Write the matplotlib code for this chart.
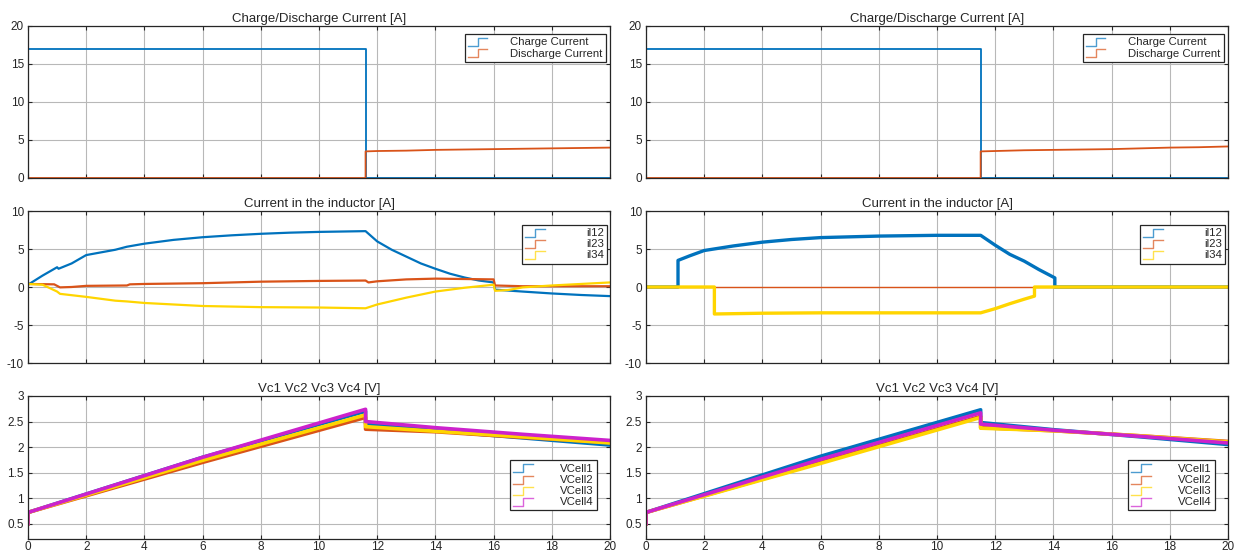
import matplotlib.pyplot as plt
from matplotlib.legend_handler import HandlerBase
from matplotlib.lines import Line2D

plt.rcParams['font.family'] = ['Liberation Sans', 'DejaVu Sans']

# scope colours
BLUE = '#0072BD'
ORANGE = '#D95319'
YELLOW = '#FFD500'
MAGENTA = '#CC22CC'
DARK = '#262626'

# ---------------- data read off the scopes ----------------
# charge / discharge current, left run
t_chg_L = [0, 11.6, 11.6, 20]
i_chg_L = [17, 17, 0, 0]
t_dis_L = [0, 11.6, 11.6, 12, 13, 14, 15, 16, 17, 18, 19, 20]
i_dis_L = [0, 0, 3.5, 3.55, 3.6, 3.7, 3.75, 3.8, 3.85, 3.9, 3.95, 4.0]

# charge / discharge current, right run
t_chg_R = [0, 11.5, 11.5, 20]
i_chg_R = [17, 17, 0, 0]
t_dis_R = [0, 11.5, 11.5, 12, 13, 14, 15, 16, 17, 18, 19, 20]
i_dis_R = [0, 0, 3.5, 3.55, 3.65, 3.7, 3.75, 3.8, 3.9, 4.0, 4.05, 4.15]

# inductor currents, left run
t_il12_L = [0, 0.5, 1.0, 1.05, 1.5, 2, 3, 3.4, 4, 5, 6, 7, 8, 9, 10, 11.6,
            12, 12.5, 13, 13.5, 14, 14.5, 15, 15.5, 16, 16.05, 17, 18, 19, 20]
il12_L = [0.3, 1.5, 2.6, 2.4, 3.1, 4.2, 4.9, 5.3, 5.7, 6.2, 6.55, 6.8, 7.0, 7.15, 7.25, 7.35,
          6.0, 4.9, 4.0, 3.1, 2.4, 1.75, 1.25, 0.85, 0.6, -0.35, -0.6, -0.85, -1.05, -1.2]
t_il23_L = [0, 0.9, 1.1, 1.5, 2, 3.4, 3.5, 4, 6, 8, 10, 11.6, 11.7, 12, 13, 14, 15, 16,
            16.05, 17, 18, 20]
il23_L = [0.4, 0.35, -0.05, 0.0, 0.15, 0.2, 0.35, 0.4, 0.5, 0.7, 0.8, 0.85, 0.6, 0.75, 1.0,
          1.1, 1.05, 1.0, 0.2, 0.1, 0.1, 0.1]
t_il34_L = [0, 0.5, 1.0, 1.1, 2, 3, 3.4, 4, 6, 8, 10, 11.6, 12, 13, 14, 15, 16, 16.05,
            16.5, 17, 18, 20]
il34_L = [0.4, 0.3, -0.6, -0.9, -1.3, -1.8, -1.9, -2.1, -2.5, -2.65, -2.7, -2.8, -2.3, -1.4,
          -0.6, -0.1, 0.3, -0.5, -0.4, -0.05, 0.2, 0.6]

# inductor currents, right run
t_il12_R = [0, 1.1, 1.1, 1.5, 2, 3, 4, 5, 6, 7, 8, 9, 10, 11.5, 12, 12.5, 13, 13.5,
            14.05, 14.05, 20]
il12_R = [0, 0, 3.5, 4.1, 4.8, 5.4, 5.9, 6.25, 6.5, 6.6, 6.7, 6.75, 6.8, 6.8, 5.5, 4.3,
          3.4, 2.3, 1.2, 0, 0]
t_il23_R = [0, 20]
il23_R = [0, 0]
t_il34_R = [0, 2.35, 2.35, 4, 6, 8, 10, 11.5, 12, 12.5, 13, 13.35, 13.35, 20]
il34_R = [0, 0, -3.55, -3.45, -3.4, -3.4, -3.4, -3.4, -2.85, -2.2, -1.6, -1.2, 0, 0]

# cell voltages, left run
t_v_L = [0, 0, 6, 11.6, 11.6, 14, 17, 20]
vc1_L = [0.5, 0.72, 1.80, 2.70, 2.46, 2.32, 2.18, 2.04]
vc2_L = [0.5, 0.72, 1.70, 2.58, 2.35, 2.30, 2.19, 2.09]
vc3_L = [0.5, 0.72, 1.74, 2.63, 2.40, 2.31, 2.20, 2.08]
vc4_L = [0.5, 0.72, 1.80, 2.74, 2.50, 2.38, 2.25, 2.13]

# cell voltages, right run
t_v_R = [0, 0, 6, 11.5, 11.5, 14, 17, 20]
vc1_R = [0.5, 0.72, 1.82, 2.73, 2.48, 2.34, 2.20, 2.05]
vc2_R = [0.5, 0.72, 1.70, 2.60, 2.38, 2.32, 2.22, 2.11]
vc3_R = [0.5, 0.72, 1.68, 2.58, 2.37, 2.32, 2.22, 2.10]
vc4_R = [0.5, 0.72, 1.76, 2.67, 2.45, 2.33, 2.21, 2.08]


# legend icon looks like a little step, like the simulink scope
class StepHandler(HandlerBase):
    def create_artists(self, legend, orig_handle, xdescent, ydescent, width, height, fontsize, trans):
        x0 = -xdescent
        xm = -xdescent + width * 0.5
        x1 = -xdescent + width
        y0 = -ydescent - height * 0.1
        y1 = -ydescent + height * 0.9
        ln = Line2D([x0, xm, xm, x1], [y0, y0, y1, y1], color=orig_handle.get_color(),
                    lw=1.0, alpha=0.7)
        ln.set_transform(trans)
        return [ln]


def style_axes(ax, title, ylim, yticks, show_x):
    ax.set_xlim(0, 20)
    ax.set_ylim(*ylim)
    ax.set_xticks(range(0, 21, 2))
    ax.set_yticks(yticks)
    ax.set_yticklabels([f'{v:g}' for v in yticks])
    if not show_x:
        ax.set_xticklabels([])
    ax.grid(True, color='#b8b8b8', lw=0.8)
    ax.set_axisbelow(True)
    ax.tick_params(direction='in', length=3, labelsize=8.5, colors=DARK,
                   top=True, right=True, pad=3)
    ax.tick_params(axis='x', pad=1.5)
    for s in ax.spines.values():
        s.set_color(DARK)
        s.set_linewidth(0.9)
    ax.set_title(title, fontsize=9.5, color=DARK, pad=3)


def add_legend(ax, loc, anchor, pad):
    leg = ax.legend(loc=loc, bbox_to_anchor=anchor, borderaxespad=0, fontsize=8.2,
                    handler_map={Line2D: StepHandler()}, handlelength=1.7,
                    handletextpad=pad, borderpad=0.3, labelspacing=0.1,
                    fancybox=False, framealpha=1, edgecolor=DARK)
    leg.get_frame().set_linewidth(0.9)
    for txt in leg.get_texts():
        txt.set_color(DARK)


fig = plt.figure(figsize=(12.39, 5.54), dpi=100)

col_x = [28 / 1239, 646 / 1239]
col_w = 582 / 1239
rows = [(1 - 178 / 554, 152 / 554), (1 - 363 / 554, 152 / 554), (1 - 539 / 554, 143 / 554)]

runs = [
    dict(t_chg=t_chg_L, i_chg=i_chg_L, t_dis=t_dis_L, i_dis=i_dis_L,
         il=[(t_il12_L, il12_L), (t_il23_L, il23_L), (t_il34_L, il34_L)], il_lw=1.6,
         t_v=t_v_L, vc=[vc1_L, vc2_L, vc3_L, vc4_L]),
    dict(t_chg=t_chg_R, i_chg=i_chg_R, t_dis=t_dis_R, i_dis=i_dis_R,
         il=[(t_il12_R, il12_R), (t_il23_R, il23_R), (t_il34_R, il34_R)], il_lw=2.4,
         t_v=t_v_R, vc=[vc1_R, vc2_R, vc3_R, vc4_R]),
]

for c, run in enumerate(runs):
    # top: charge / discharge current
    ax = fig.add_axes([col_x[c], rows[0][0], col_w, rows[0][1]])
    ax.plot(run['t_chg'], run['i_chg'], color=BLUE, lw=1.3, label='Charge Current')
    ax.plot(run['t_dis'], run['i_dis'], color=ORANGE, lw=1.3, label='Discharge Current')
    style_axes(ax, 'Charge/Discharge Current [A]', (0, 20), [0, 5, 10, 15, 20], False)
    add_legend(ax, 'upper right', (0.993, 0.947), 2.0)

    # middle: inductor currents
    ax = fig.add_axes([col_x[c], rows[1][0], col_w, rows[1][1]])
    for (t, v), col, name in zip(run['il'], [BLUE, ORANGE, YELLOW], ['il12', 'il23', 'il34']):
        lw = 1.0 if name == 'il23' and c == 1 else run['il_lw']
        ax.plot(t, v, color=col, lw=lw, label=name)
    style_axes(ax, 'Current in the inductor [A]', (-10, 10), [-10, -5, 0, 5, 10], False)
    add_legend(ax, 'upper right', (0.995, 0.91), 3.6)

    # bottom: cell voltages
    ax = fig.add_axes([col_x[c], rows[2][0], col_w, rows[2][1]])
    for v, col, name in zip(run['vc'], [BLUE, ORANGE, YELLOW, MAGENTA],
                            ['VCell1', 'VCell2', 'VCell3', 'VCell4']):
        ax.plot(run['t_v'], v, color=col, lw=2.6, label=name)
    style_axes(ax, 'Vc1 Vc2 Vc3 Vc4 [V]', (0.2, 3), [0.5, 1, 1.5, 2, 2.5, 3], True)
    add_legend(ax, 'lower right', (0.978, 0.2), 2.4)

fig.savefig('out.png', dpi=100)
